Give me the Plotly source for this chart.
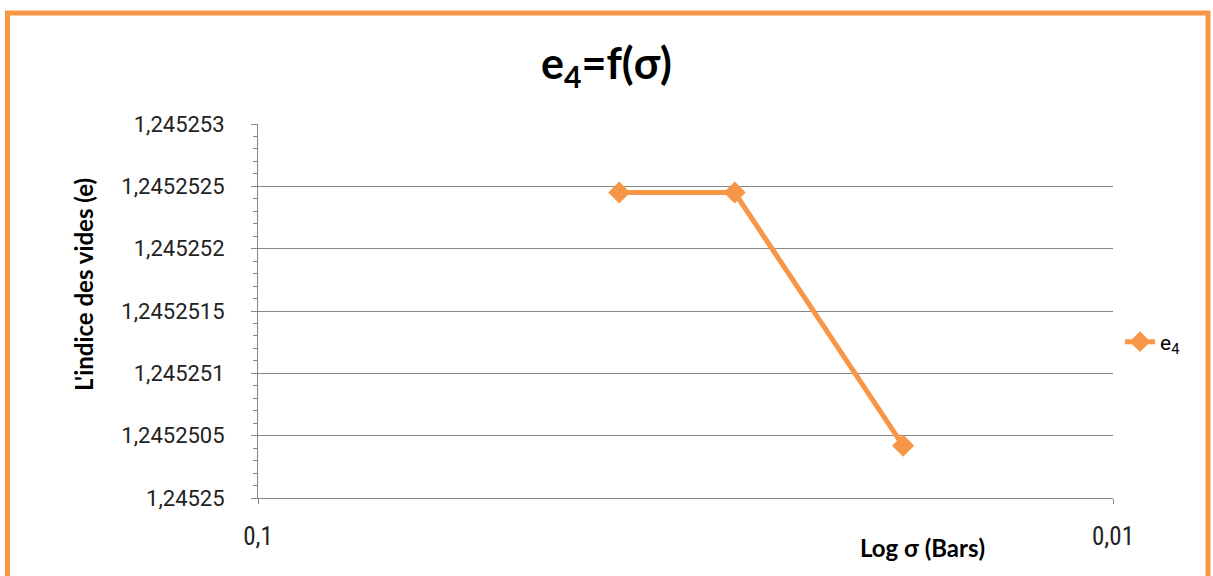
import plotly.graph_objects as go

# Contrainte (bars) et indice des vides e4
sigma = [0.0378, 0.0277, 0.0176]
e4 = [1.24525245, 1.24525245, 1.24525042]

y_ticks = [1.24525, 1.2452505, 1.245251, 1.2452515, 1.245252, 1.2452525, 1.245253]
y_labels = ["1,24525", "1,2452505", "1,245251", "1,2452515", "1,245252", "1,2452525", "1,245253"]
x_ticks = [0.1, 0.01]
x_labels = ["0,1", "0,01"]

ORANGE = "#F79646"
GRID = "#868686"
W, H = 1213, 576
L, R, T, B = 258, 100, 124, 78
PW, PH = W - L - R, H - T - B


def px_x(x):
    return (x - L) / PW


def px_y(y):
    return (H - B - y) / PH


fig = go.Figure()
fig.add_trace(go.Scatter(
    x=sigma, y=e4, mode="lines+markers", name="e<sub>4</sub>",
    line=dict(color=ORANGE, width=5),
    marker=dict(symbol="diamond", size=17, color=ORANGE),
))

fig.update_layout(
    width=W, height=H,
    margin=dict(l=L, r=R, t=T, b=B),
    paper_bgcolor="white", plot_bgcolor="white",
    font=dict(family="Roboto, Arial, sans-serif", color="#222222", size=20),
    title=dict(text="<b>e<sub>4</sub>=f(σ)</b>", x=0.5, xref="container", xanchor="center",
               y=1 - 64 / H, yref="container", yanchor="middle",
               font=dict(family="Lato, Open Sans, sans-serif", size=43, color="black")),
    showlegend=True,
    legend=dict(x=px_x(1120), y=px_y(342), xanchor="left", yanchor="middle",
                bgcolor="rgba(0,0,0,0)", font=dict(size=21, color="black"),
                tracegroupgap=0),
    xaxis=dict(type="log", range=[-1, -2], tickvals=x_ticks, ticktext=x_labels,
               showgrid=False, zeroline=False, showline=True, linecolor=GRID, linewidth=1,
               ticks="outside", ticklen=5, tickcolor=GRID, ticklabelstandoff=11,
               tickfont=dict(family="Liberation Sans Narrow, Roboto Condensed, Roboto, sans-serif",
                             size=25, color="#222222")),
    yaxis=dict(range=[1.24525, 1.245253], tickvals=y_ticks, ticktext=y_labels,
               showgrid=True, gridcolor=GRID, gridwidth=1, zeroline=False,
               showline=True, linecolor=GRID, linewidth=1,
               ticks="outside", ticklen=6, tickcolor=GRID, ticklabelstandoff=22,
               tickfont=dict(family="Roboto, sans-serif", size=22, color="#222222"),
               minor=dict(tick0=1.24525, dtick=1e-7, ticks="outside", ticklen=4,
                          tickcolor=GRID, showgrid=False)),
    shapes=[dict(type="rect", xref="paper", yref="paper",
                 x0=px_x(7.5), x1=px_x(1208), y0=px_y(590), y1=px_y(13),
                 line=dict(color=ORANGE, width=5), fillcolor="rgba(0,0,0,0)", layer="below")],
    annotations=[
        dict(text="<b>L'indice des vides (e)</b>", textangle=-90, xref="paper", yref="paper",
             x=px_x(83), y=px_y(285), xanchor="center", yanchor="middle", showarrow=False,
             font=dict(family="Lato, Open Sans, sans-serif", size=24, color="black")),
        dict(text="<b>Log σ (Bars)</b>", xref="paper", yref="paper",
             x=px_x(922), y=px_y(547), xanchor="center", yanchor="middle", showarrow=False,
             font=dict(family="Lato, Open Sans, sans-serif", size=24, color="black")),
    ],
)

fig.write_html("out.html")
